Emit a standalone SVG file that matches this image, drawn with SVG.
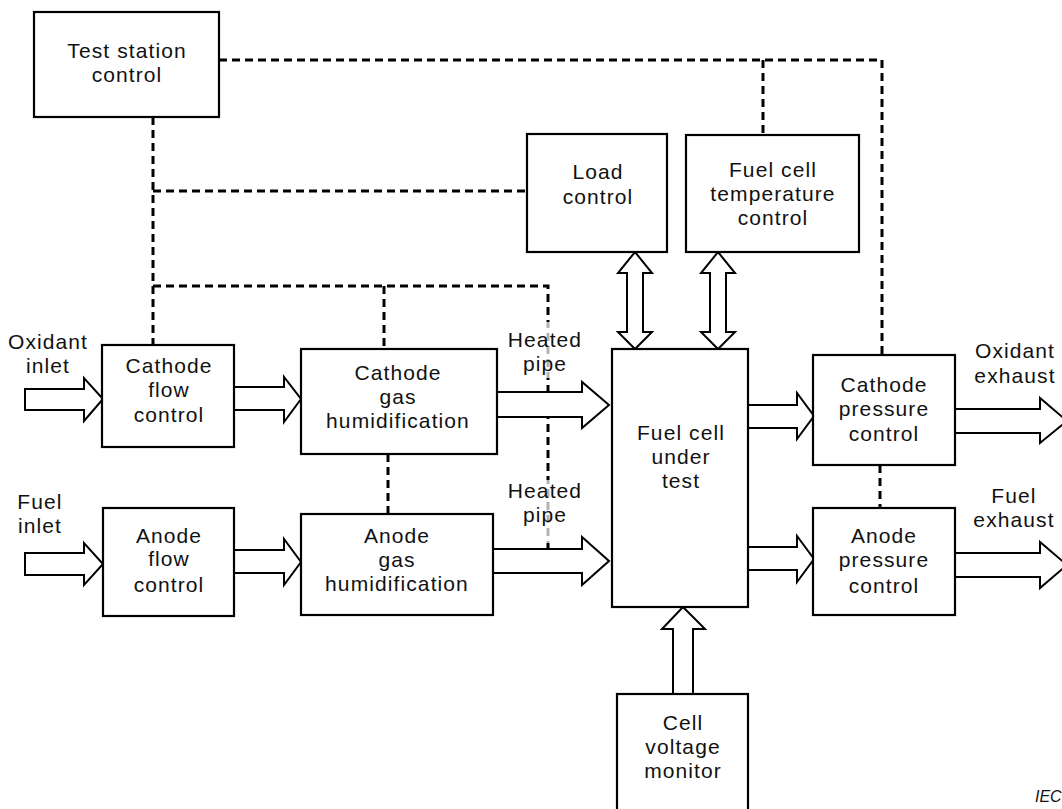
<svg xmlns="http://www.w3.org/2000/svg" width="1062" height="809" viewBox="0 0 1062 809">
<style>
.box{fill:#fff;stroke:#000;stroke-width:2.2}
.arr{fill:#fff;stroke:#000;stroke-width:2;stroke-linejoin:miter}
.dash{fill:none;stroke:#000;stroke-width:3;stroke-dasharray:8 5}
text{font-family:"Liberation Sans",Arial,sans-serif;font-size:21px;letter-spacing:1.1px;fill:#111;text-anchor:middle}
.iec{font-size:16px;font-style:italic;letter-spacing:0;text-anchor:start}
.veil{fill:#fff;fill-opacity:0.7}
</style>
<rect width="1062" height="809" fill="#fff"/>
<g id="connectors">
<path class="dash" d="M219,60 H882 V355"/>
<path class="dash" d="M763,60 V135"/>
<path class="dash" d="M153,117 V345"/>
<path class="dash" d="M153,191 H527"/>
<path class="dash" d="M153,286 H548 V549"/>
<path class="dash" d="M384,286 V349"/>
<path class="dash" d="M388,454 V514"/>
<path class="dash" d="M880,465 V508"/>
<rect class="veil" x="505" y="322" width="78" height="56"/>
<rect class="veil" x="505" y="480" width="76" height="63"/>
<path class="arr" d="M25,389 H84 V378 L103,399 L84,421 V410 H25 Z"/>
<path class="arr" d="M234,387 H284 V377 L301,399 L284,422 V410 H234 Z"/>
<path class="arr" d="M25,553 H84 V543 L103,564 L84,585 V575 H25 Z"/>
<path class="arr" d="M234,550 H284 V539 L301,562 L284,585 V573 H234 Z"/>
<path class="arr" d="M497,392 H582 V382 L609,405 L582,428 V417 H497 Z"/>
<path class="arr" d="M493,549 H582 V537 L609,561 L582,585 V573 H493 Z"/>
<path class="arr" d="M748,405 H797 V393 L814,416 L797,439 V428 H748 Z"/>
<path class="arr" d="M748,547 H797 V536 L814,559 L797,582 V570 H748 Z"/>
<path class="arr" d="M955,409 H1040 V398 L1067,421 L1040,443 V433 H955 Z"/>
<path class="arr" d="M955,553 H1040 V542 L1067,565 L1040,588 V577 H955 Z"/>
<path class="arr" d="M673,694 V629 H662 L683,607 L705,629 H693 V694 Z"/>
<path class="arr" d="M635,252 L652,273 H643 V332 H652 L635,349 L618,332 H627 V273 H618 Z"/>
<path class="arr" d="M718,252 L735,273 H726 V332 H735 L718,349 L701,332 H710 V273 H701 Z"/>
</g>
<g id="labels">
<text x="48" y="349">Oxidant</text><text x="48" y="373">inlet</text>
<text x="40" y="509">Fuel</text><text x="40" y="533">inlet</text>
<text x="545" y="347">Heated</text><text x="545" y="371">pipe</text>
<text x="545" y="498">Heated</text><text x="545" y="522">pipe</text>
<text x="1015" y="358">Oxidant</text><text x="1015" y="383">exhaust</text>
<text x="1014" y="503">Fuel</text><text x="1014" y="527">exhaust</text>
<text class="iec" x="1035" y="802">IEC</text>
</g>
<g id="test-station-control"><rect class="box" x="34" y="12" width="185" height="105"/><text x="127" y="58">Test station</text><text x="127" y="82">control</text></g>
<g id="load-control"><rect class="box" x="527" y="134" width="140" height="118"/><text x="598" y="179">Load</text><text x="598" y="204">control</text></g>
<g id="temperature-control"><rect class="box" x="686" y="135" width="173" height="117"/><text x="773" y="177">Fuel cell</text><text x="773" y="201">temperature</text><text x="773" y="225">control</text></g>
<g id="cathode-flow-control"><rect class="box" x="102" y="345" width="132" height="102"/><text x="169" y="373">Cathode</text><text x="169" y="397">flow</text><text x="169" y="422">control</text></g>
<g id="anode-flow-control"><rect class="box" x="103" y="508" width="131" height="108"/><text x="169" y="543">Anode</text><text x="169" y="566">flow</text><text x="169" y="592">control</text></g>
<g id="cathode-gas-humidification"><rect class="box" x="301" y="349" width="196" height="105"/><text x="398" y="380">Cathode</text><text x="398" y="404">gas</text><text x="398" y="428">humidification</text></g>
<g id="anode-gas-humidification"><rect class="box" x="301" y="514" width="192" height="101"/><text x="397" y="543">Anode</text><text x="397" y="567">gas</text><text x="397" y="591">humidification</text></g>
<g id="fuel-cell-under-test"><rect class="box" x="612" y="349" width="136" height="258"/><text x="681" y="440">Fuel cell</text><text x="681" y="464">under</text><text x="681" y="488">test</text></g>
<g id="cathode-pressure-control"><rect class="box" x="813" y="355" width="142" height="110"/><text x="884" y="392">Cathode</text><text x="884" y="416">pressure</text><text x="884" y="441">control</text></g>
<g id="anode-pressure-control"><rect class="box" x="813" y="508" width="142" height="107"/><text x="884" y="543">Anode</text><text x="884" y="567">pressure</text><text x="884" y="593">control</text></g>
<g id="cell-voltage-monitor"><rect class="box" x="617" y="694" width="131" height="130"/><text x="683" y="730">Cell</text><text x="683" y="754">voltage</text><text x="683" y="778">monitor</text></g>
</svg>
